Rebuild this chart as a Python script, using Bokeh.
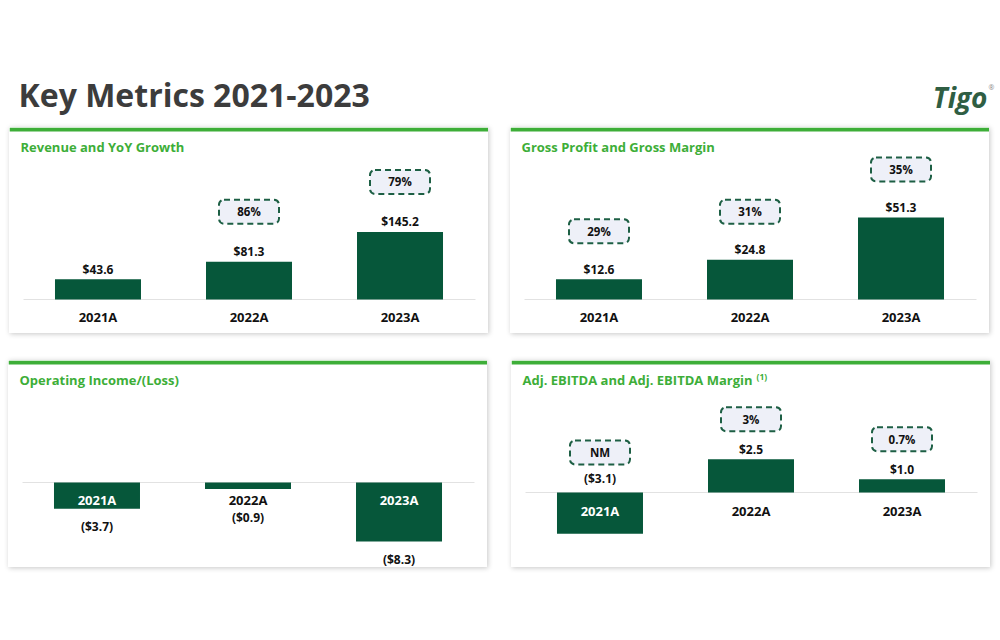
from bokeh.plotting import figure
from bokeh.models import Range1d, Spacer
from bokeh.layouts import row, column
from bokeh.embed import file_html
from bokeh.resources import INLINE
from bokeh.core.properties import value

# ---------------- data ----------------
years = ["2021A", "2022A", "2023A"]
revenue = [43.6, 81.3, 145.2]
revenue_growth = [None, "86%", "79%"]
gross_profit = [12.6, 24.8, 51.3]
gross_margin = ["29%", "31%", "35%"]
operating_income = [-3.7, -0.9, -8.3]
adj_ebitda = [-3.1, 2.5, 1.0]
adj_ebitda_margin = ["NM", "3%", "0.7%"]

# ---------------- style ----------------
FONT = "Open Sans"
GREEN = "#3dae38"
BAR = "#06573a"
DASH = "#1d5f44"
BOXFILL = "#eef0f8"
INK = "#111111"
W = 479
PAD = 0.086
SHADOW = {"box-shadow": "1px 1px 5px rgba(0,0,0,0.22)"}


def money(v):
    return f"${v:.1f}" if v >= 0 else f"(${-v:.1f})"


def build(title, vals, scale, base_px, H, lab_px, box_txt, box_px, cat_px, sup=None):
    y_lo = -base_px / scale
    y_hi = (H - base_px) / scale
    x_lo = -0.5 - PAD
    x_hi = len(years) - 0.5 + PAD
    step = W / (x_hi - x_lo)

    def px2x(px):
        return x_lo + px / step

    p = figure(width=W, height=H, x_range=Range1d(x_lo, x_hi), y_range=Range1d(y_lo, y_hi),
               x_axis_type=None, y_axis_type=None, toolbar_location=None, title=None,
               output_backend="svg", min_border=0, outline_line_color=None,
               background_fill_color="white", border_fill_color="white")
    p.grid.visible = False
    p.styles = SHADOW
    xs = list(range(len(years)))

    # green header band
    p.quad(left=[x_lo], right=[x_hi], bottom=[y_hi - 4 / scale], top=[y_hi],
           fill_color=GREEN, line_color=None)
    # baseline
    p.segment(x0=[px2x(14)], x1=[px2x(W - 13)], y0=[0], y1=[0], line_color="#e2e2e2", line_width=1)
    # bars
    p.vbar(x=xs, top=vals, bottom=0, width=86 / step, fill_color=BAR, line_color=None)
    # value labels
    p.text(x=xs, y=[q / scale for q in lab_px], text=[money(v) for v in vals],
           text_align="center", text_baseline="middle", text_font=value(FONT),
           text_font_size="12px", text_font_style="bold", text_color=INK)
    # category labels
    cat_colors = ["white" if v * scale < cat_px - 8 else INK for v in vals]
    p.text(x=xs, y=[cat_px / scale] * len(xs), text=years,
           text_align="center", text_baseline="middle", text_font=value(FONT),
           text_font_size="13px", text_font_style="bold", text_color=cat_colors)
    # dashed boxes
    bx = [x for x, t in zip(xs, box_txt) if t]
    by = [q / scale for q, t in zip(box_px, box_txt) if t]
    bt = [t for t in box_txt if t]
    p.rect(x=bx, y=by, width=60, height=24, width_units="screen", height_units="screen",
           fill_color=BOXFILL, line_color=DASH, line_width=2, line_dash="6 4", border_radius=5)
    p.text(x=bx, y=by, text=bt, text_align="center", text_baseline="middle",
           text_font=value(FONT), text_font_size="11.5px", text_font_style="bold", text_color=INK)
    # panel title
    p.text(x=[px2x(11)], y=[y_hi - 19 / scale], text=[title], text_align="left",
           text_baseline="middle", text_font=value(FONT), text_font_size="13px",
           text_font_style="bold", text_color=GREEN)
    if sup:
        p.text(x=[px2x(sup[0])], y=[y_hi - 16 / scale], text=[sup[1]], text_align="left",
               text_baseline="middle", text_font=value(FONT), text_font_size="8.5px",
               text_font_style="bold", text_color=GREEN)
    return p


# Revenue
s1 = 0.465
p1 = build("Revenue and YoY Growth", revenue, s1, 34, 206,
           [v * s1 + 10 for v in revenue], revenue_growth,
           [v * s1 + 50 for v in revenue], -17)
# Gross profit
s2 = 1.6
p2 = build("Gross Profit and Gross Margin", gross_profit, s2, 34, 206,
           [v * s2 + 10 for v in gross_profit], gross_margin,
           [v * s2 + 48 for v in gross_profit], -17)
# Operating income
s3 = 7.1
p3 = build("Operating Income/(Loss)", operating_income, s3, 85, 207,
           [min(v * s3, -17) - 18 for v in operating_income], [None] * 3,
           [0] * 3, -17)
# Adj. EBITDA
s4 = 13.3
p4 = build("Adj. EBITDA and Adj. EBITDA Margin", adj_ebitda, s4, 75, 207,
           [max(v * s4, 0) + (14 if v < 0 else 10) for v in adj_ebitda], adj_ebitda_margin,
           [max(v * s4, 0) + 40 for v in adj_ebitda], -18, sup=(245, "(1)"))

# header
HH = 127
t = figure(width=1000, height=HH, x_range=Range1d(0, 1000), y_range=Range1d(0, HH),
           x_axis_type=None, y_axis_type=None, toolbar_location=None, title=None,
           output_backend="svg", min_border=0, outline_line_color=None)
t.grid.visible = False
t.text(x=[18], y=[HH - 94], text=["Key Metrics 2021-2023"], text_align="left", text_baseline="middle",
       text_font=value(FONT), text_font_size="32px", text_font_style="bold", text_color="#3c3c3c")
t.text(x=[987], y=[HH - 96], text=["Tigo"], text_align="right", text_baseline="middle",
       text_font=value(FONT), text_font_size="28px", text_font_style="bold italic", text_color="#2f5e43")
t.text(x=[988], y=[HH - 87], text=["®"], text_align="left", text_baseline="middle",
       text_font=value(FONT), text_font_size="7px", text_color="#888888")

layout = column(
    t,
    row(Spacer(width=9), row(p1, p2, spacing=22)),
    Spacer(height=27),
    row(Spacer(width=8), row(p3, p4, spacing=24)),
)

open("out.html", "w").write(file_html(layout, INLINE))
